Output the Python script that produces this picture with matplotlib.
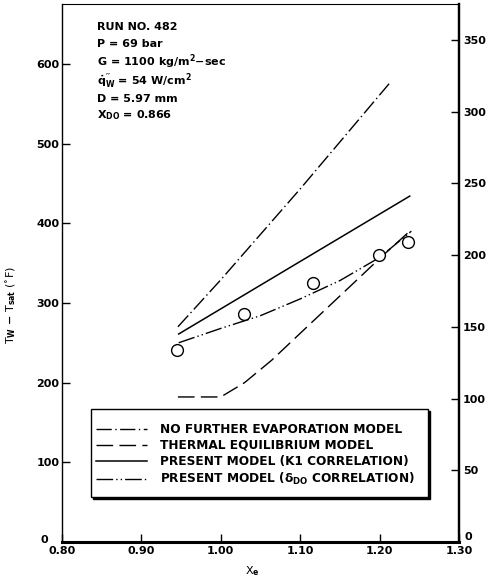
import numpy as np
import matplotlib
matplotlib.use("Agg")
import matplotlib.pyplot as plt
import matplotlib.patches as mpatches
import matplotlib.transforms as mtransforms

plt.rcParams['font.family'] = ['DejaVu Sans']
plt.rcParams['font.weight'] = 'bold'
plt.rcParams['mathtext.fontset'] = 'custom'
plt.rcParams['mathtext.rm'] = 'DejaVu Sans:bold'
plt.rcParams['mathtext.it'] = 'DejaVu Sans:bold'
plt.rcParams['mathtext.bf'] = 'DejaVu Sans:bold'

# measured wall superheat, run 482
x_meas = [0.945, 1.029, 1.116, 1.199, 1.236]
dt_meas = [241, 286, 325, 360, 376]

# no further evaporation model
x_nfe = [0.946, 1.00, 1.10, 1.212]
dt_nfe = [270, 329, 443, 575]

# thermal equilibrium model
x_te = [0.946, 1.00, 1.03, 1.064, 1.114, 1.161, 1.2025, 1.238]
dt_te = [182, 182, 200, 228, 275, 319, 358, 390]

# present model, K1 correlation
x_k1 = [0.947, 1.10, 1.238]
dt_k1 = [261, 352, 434]

# present model, delta_DO correlation
x_do = [0.947, 1.00, 1.05, 1.10, 1.15, 1.20, 1.24]
dt_do = [250, 268, 284, 305, 328, 357, 390]

labels = ['NO FURTHER EVAPORATION MODEL',
          'THERMAL EQUILIBRIUM MODEL',
          'PRESENT MODEL (K1 CORRELATION)',
          r'PRESENT MODEL (δ$_{\mathrm{DO}}$ CORRELATION)']

run_info = ['RUN NO. 482',
            'P = 69 bar',
            r'G = 1100 kg/m$^{2}$$-$sec',
            r"$\dot{\mathrm{q}}_{\mathrm{W}}''$ = 54 W/cm$^{2}$",
            'D = 5.97 mm',
            r'X$_{\mathrm{DO}}$ = 0.866']
info_y = [0.9526, 0.920, 0.885, 0.851, 0.818, 0.788]

fig = plt.figure(figsize=(4.9, 5.83), dpi=100)
ax = fig.add_axes([0.1265, 0.0703, 0.9367 - 0.1265, 0.9931 - 0.0703])

l1, = ax.plot(x_nfe, dt_nfe, color='black', lw=1.0, dashes=(11, 2.5, 1, 2.5))
l2, = ax.plot(x_te, dt_te, color='black', lw=1.0, dashes=(12, 4.5))
l3, = ax.plot(x_k1, dt_k1, color='black', lw=1.1)
l4, = ax.plot(x_do, dt_do, color='black', lw=1.0,
              dashes=(12, 2.2, 1, 2.2, 1, 2.2))
ax.plot(x_meas, dt_meas, 'o', ms=8.5, mfc='white', mec='black', mew=1.0)

ax.set_xlim(0.80, 1.30)
ax.set_ylim(0, 675)
ax.set_xticks([0.80, 0.90, 1.00, 1.10, 1.20, 1.30])
ax.set_xticklabels(['0.80', '0.90', '1.00', '1.10', '1.20', '1.30'])
ax.set_yticks(np.arange(0, 601, 100))
ax.set_yticklabels([''] + [str(v) for v in range(100, 601, 100)])
ax.tick_params(direction='in', length=6, width=1, labelsize=8, pad=2)
ax.tick_params(axis='x', pad=3)

# same temperature difference in deg C on the right
sec = ax.secondary_yaxis('right', functions=(lambda f: f * 5 / 9,
                                              lambda c: c * 9 / 5))
sec.set_yticks(np.arange(0, 351, 50))
sec.set_yticklabels([''] + [str(v) for v in range(50, 351, 50)])
sec.tick_params(direction='in', length=6, width=1, labelsize=8, pad=3)
sec.spines['right'].set_linewidth(1.6)

# the two zeros sit beside the corners
ax.text(-0.035, 0.003, '0', transform=ax.transAxes, fontsize=8,
        ha='right', va='center')
ax.text(1.013, 0.009, '0', transform=ax.transAxes, fontsize=8,
        ha='left', va='center')

ax.spines['bottom'].set_linewidth(2.2)
ax.spines['left'].set_linewidth(1.0)
ax.spines['top'].set_linewidth(0.8)
ax.spines['right'].set_linewidth(1.6)

ax.set_xlabel(r'X$_{\mathrm{e}}$', fontsize=8)
ax.xaxis.set_label_coords(0.48, -0.042)
ax.set_ylabel(r'T$_{\mathrm{W}}$ $-$ T$_{\mathrm{sat}}$ ($^{\circ}$F)', fontsize=8)
ax.yaxis.set_label_coords(-0.11, 0.44)

for s, yy in zip(run_info, info_y):
    ax.text(0.088, yy, s, transform=ax.transAxes, fontsize=8, va='baseline')

# legend box with a solid drop shadow
box = (0.073, 0.0836, 0.849, 0.1636)
shift = mtransforms.ScaledTranslation(2 / 100, -2 / 100, fig.dpi_scale_trans)
ax.add_patch(mpatches.Rectangle(box[:2], box[2], box[3], transform=ax.transAxes + shift,
                                facecolor='black', edgecolor='black', zorder=4))
ax.add_patch(mpatches.Rectangle(box[:2], box[2], box[3], transform=ax.transAxes,
                                facecolor='white', edgecolor='black', lw=1.0, zorder=5))

leg = ax.legend([l1, l2, l3, l4], labels, loc='center left',
                bbox_to_anchor=(0.073, 0.1617), borderaxespad=0,
                fontsize=8.7, handlelength=4.2, handletextpad=1.1,
                labelspacing=0.25, borderpad=0.4, frameon=False)
leg.set_zorder(6)

fig.savefig('out.png', dpi=100)
